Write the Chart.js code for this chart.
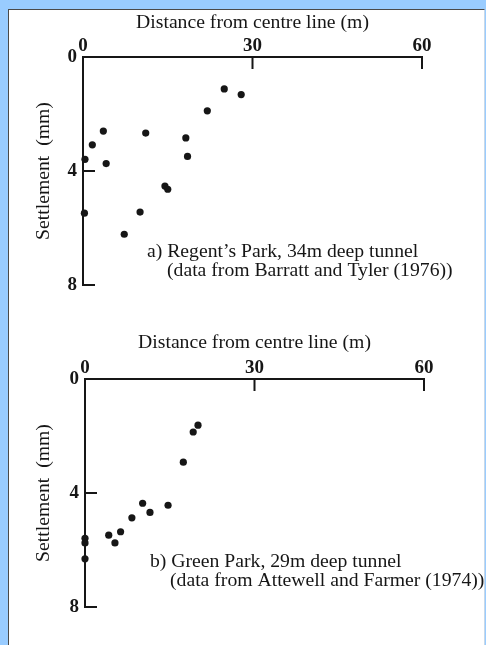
<!DOCTYPE html>
<html>
<head>
<meta charset="utf-8">
<title>Surface settlement above tunnels</title>
<script src="https://cdn.jsdelivr.net/npm/chart.js@4.4.0/dist/chart.umd.min.js"></script>
<style>
  html, body { margin: 0; padding: 0; }
  body { width: 486px; height: 645px; background: #99ccff; position: relative; overflow: hidden; }
  #panel { position: absolute; left: 8px; top: 9px; width: 475px; height: 650px; background: #ffffff;
           border-top: 1px solid #4a4a4a; border-left: 1px solid #4a4a4a; border-right: 1px solid #c8d8e8; }
  canvas { position: absolute; left: 0; }
  #chartA { top: 0; }
  #chartB { top: 320px; }
</style>
</head>
<body>
<div id="panel"></div>
<canvas id="chartA" width="486" height="320"></canvas>
<canvas id="chartB" width="486" height="325"></canvas>
<script>
// Regent's Park, 34 m deep tunnel (Barratt and Tyler, 1976)
const regentDistance = [0.35, 1.65, 3.6, 4.1, 11.1, 0.25, 10.1, 7.3, 14.5, 15.0, 18.2, 18.5, 22.0, 25.0, 28.0];
const regentSettlement = [3.59, 3.08, 2.6, 3.74, 2.67, 5.48, 5.44, 6.22, 4.53, 4.64, 2.84, 3.49, 1.89, 1.12, 1.32];

// Green Park, 29 m deep tunnel (Attewell and Farmer, 1974)
const greenDistance = [0, 0, 0, 4.2, 5.3, 6.3, 8.3, 10.2, 11.5, 14.7, 17.4, 19.15, 20.0];
const greenSettlement = [5.59, 5.75, 6.31, 5.48, 5.75, 5.36, 4.87, 4.36, 4.68, 4.43, 2.92, 1.86, 1.62];

// Axis ranges and tick labels
const distanceTicks = [0, 30, 60];
const settlementTicks = [0, 4, 8];

const xTitle = 'Distance from centre line (m)';
const yTitle = 'Settlement  (mm)';
const captionA = ['a) Regent\u2019s Park, 34m deep tunnel', '(data from Barratt and Tyler (1976))'];
const captionB = ['b) Green Park, 29m deep tunnel', '(data from Attewell and Farmer (1974))'];

const INK = '#161616';
const SERIF = '"Liberation Serif", "Times New Roman", serif';
const TEXT_SIZE = 19.7;

// Tick marks that point into the plot area, as on the printed figure
const inwardTicks = {
  id: 'inwardTicks',
  afterDraw(chart, args, opts) {
    const { ctx, chartArea } = chart;
    const xs = chart.scales.x, ys = chart.scales.y;
    ctx.save();
    ctx.strokeStyle = INK;
    ctx.lineWidth = 2;
    ctx.beginPath();
    xs.ticks.forEach(t => {
      if (t.value === xs.min) return;
      const px = xs.getPixelForValue(t.value);
      ctx.moveTo(px, chartArea.top);
      ctx.lineTo(px, chartArea.top + opts.length);
    });
    ys.ticks.forEach(t => {
      if (t.value === ys.min) return;
      const py = ys.getPixelForValue(t.value);
      ctx.moveTo(chartArea.left, py);
      ctx.lineTo(chartArea.left + opts.length, py);
    });
    ctx.stroke();
    ctx.restore();
  }
};

// Two-line caption inside each panel
const caption = {
  id: 'caption',
  afterDraw(chart, args, opts) {
    const { ctx } = chart;
    ctx.save();
    ctx.fillStyle = INK;
    ctx.font = TEXT_SIZE + 'px ' + SERIF;
    ctx.textBaseline = 'middle';
    ctx.textAlign = 'left';
    opts.lines.forEach((txt, i) => {
      ctx.fillText(txt, opts.x[i], opts.y[i]);
    });
    ctx.restore();
  }
};

function makeChart(canvasId, xs, ys, frame, lines, captionPos) {
  const points = xs.map((x, i) => ({ x: x, y: ys[i] }));
  return new Chart(document.getElementById(canvasId), {
    type: 'scatter',
    data: {
      datasets: [{
        data: points,
        pointRadius: 3.6,
        pointHoverRadius: 3.6,
        pointBackgroundColor: INK,
        pointBorderWidth: 0,
        clip: false
      }]
    },
    plugins: [inwardTicks, caption],
    options: {
      responsive: false,
      animation: false,
      events: [],
      layout: { padding: { left: 0, top: 0, right: frame.right, bottom: frame.bottom } },
      plugins: {
        legend: { display: false },
        tooltip: { enabled: false },
        inwardTicks: { length: 12 },
        caption: { lines: lines, x: captionPos.x, y: captionPos.y }
      },
      scales: {
        x: {
          type: 'linear',
          position: 'top',
          min: distanceTicks[0],
          max: distanceTicks[distanceTicks.length - 1],
          afterBuildTicks: s => { s.ticks = distanceTicks.map(v => ({ value: v })); },
          afterFit: s => { s.height = frame.top; },
          grid: { display: false, drawTicks: false },
          border: { display: true, color: INK, width: 2 },
          ticks: { color: INK, padding: 0, font: { family: SERIF, size: 19, weight: 'bold' } },
          title: {
            display: true, text: xTitle, color: INK,
            font: { family: SERIF, size: TEXT_SIZE, lineHeight: 1 },
            padding: { top: 13, bottom: 0 }
          }
        },
        y: {
          type: 'linear',
          position: 'left',
          reverse: true,
          min: settlementTicks[0],
          max: settlementTicks[settlementTicks.length - 1],
          afterBuildTicks: s => { s.ticks = settlementTicks.map(v => ({ value: v })); },
          afterFit: s => { s.width = frame.left; },
          grid: { display: false, drawTicks: false },
          border: { display: true, color: INK, width: 2 },
          ticks: { color: INK, padding: 6, font: { family: SERIF, size: 19, weight: 'bold' } },
          title: {
            display: true, text: yTitle, color: INK,
            font: { family: SERIF, size: TEXT_SIZE, lineHeight: 1 },
            padding: { top: 34, bottom: 0 }
          }
        }
      }
    }
  });
}

makeChart('chartA', regentDistance, regentSettlement,
  { left: 83, top: 57, right: 64, bottom: 35 },
  captionA, { x: [147, 167], y: [252, 271] });

makeChart('chartB', greenDistance, greenSettlement,
  { left: 85, top: 59, right: 62, bottom: 38 },
  captionB, { x: [150, 170], y: [242, 261] });
</script>
</body>
</html>
